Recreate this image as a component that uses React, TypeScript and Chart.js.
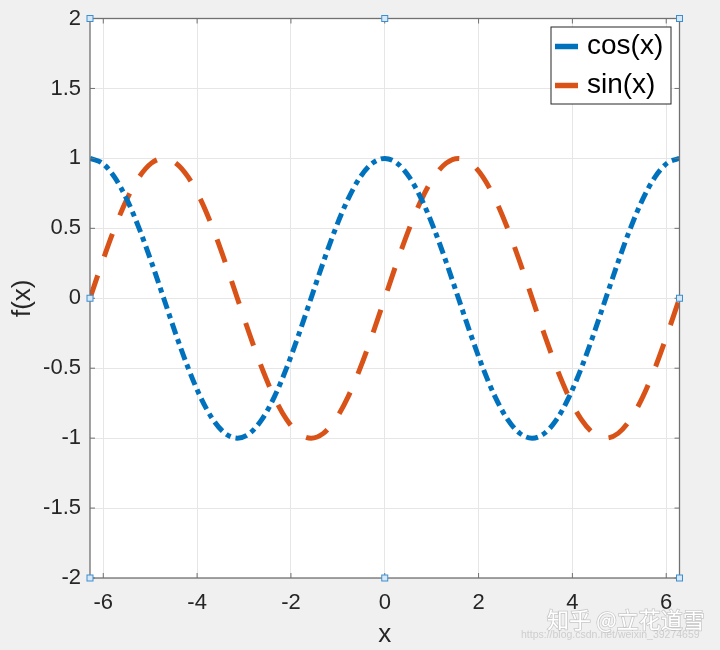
import React, { useRef, useEffect } from "react";
import Chart from "chart.js/auto";

// sampled every 15 degrees from -2pi to 2pi
const xValues = [
  -6.283, -6.021, -5.76, -5.498, -5.236, -4.974, -4.712, -4.451, -4.189, -3.927,
  -3.665, -3.403, -3.142, -2.88, -2.618, -2.356, -2.094, -1.833, -1.571, -1.309,
  -1.047, -0.785, -0.524, -0.262, 0, 0.262, 0.524, 0.785, 1.047, 1.309, 1.571,
  1.833, 2.094, 2.356, 2.618, 2.88, 3.142, 3.403, 3.665, 3.927, 4.189, 4.451,
  4.712, 4.974, 5.236, 5.498, 5.76, 6.021, 6.283,
];
const cosValues = [
  1, 0.966, 0.866, 0.707, 0.5, 0.259, 0, -0.259, -0.5, -0.707, -0.866, -0.966,
  -1, -0.966, -0.866, -0.707, -0.5, -0.259, 0, 0.259, 0.5, 0.707, 0.866, 0.966,
  1, 0.966, 0.866, 0.707, 0.5, 0.259, 0, -0.259, -0.5, -0.707, -0.866, -0.966,
  -1, -0.966, -0.866, -0.707, -0.5, -0.259, 0, 0.259, 0.5, 0.707, 0.866, 0.966,
  1,
];
const sinValues = [
  0, 0.259, 0.5, 0.707, 0.866, 0.966, 1, 0.966, 0.866, 0.707, 0.5, 0.259, 0,
  -0.259, -0.5, -0.707, -0.866, -0.966, -1, -0.966, -0.866, -0.707, -0.5,
  -0.259, 0, 0.259, 0.5, 0.707, 0.866, 0.966, 1, 0.966, 0.866, 0.707, 0.5,
  0.259, 0, -0.259, -0.5, -0.707, -0.866, -0.966, -1, -0.966, -0.866, -0.707,
  -0.5, -0.259, 0,
];
const seriesLabels = ["cos(x)", "sin(x)"];
const seriesColors = ["#0072BD", "#D95319"];
const xTicks = [-6, -4, -2, 0, 2, 4, 6];
const yTicks = [-2, -1.5, -1, -0.5, 0, 0.5, 1, 1.5, 2];
const xMin = -6.283;
const xMax = 6.283;
const yMin = -2;
const yMax = 2;

const FONT = "'Liberation Sans', Arial, sans-serif";
const AXIS_COLOR = "#707070";

const matlabFrame = {
  id: "matlabFrame",
  beforeDraw(chart: any) {
    const { ctx, chartArea: a } = chart;
    ctx.save();
    ctx.fillStyle = "#f0f0f0";
    ctx.fillRect(0, 0, chart.width, chart.height);
    ctx.fillStyle = "#ffffff";
    ctx.fillRect(a.left, a.top, a.right - a.left, a.bottom - a.top);
    ctx.restore();
  },
  afterDraw(chart: any) {
    const { ctx, chartArea: a } = chart;
    const xs = chart.scales.x;
    const ys = chart.scales.y;
    ctx.save();

    // box and inward ticks
    ctx.strokeStyle = AXIS_COLOR;
    ctx.lineWidth = 1.3;
    ctx.strokeRect(a.left, a.top, a.right - a.left, a.bottom - a.top);
    ctx.lineWidth = 1;
    ctx.beginPath();
    xTicks.forEach((v) => {
      const px = xs.getPixelForValue(v);
      ctx.moveTo(px, a.bottom);
      ctx.lineTo(px, a.bottom - 5);
      ctx.moveTo(px, a.top);
      ctx.lineTo(px, a.top + 5);
    });
    yTicks.forEach((v) => {
      const py = ys.getPixelForValue(v);
      ctx.moveTo(a.left, py);
      ctx.lineTo(a.left + 5, py);
      ctx.moveTo(a.right, py);
      ctx.lineTo(a.right - 5, py);
    });
    ctx.stroke();

    // legend
    const bw = 120;
    const bh = 77;
    const bx = a.right - 8.5 - bw;
    const by = a.top + 8.5;
    ctx.fillStyle = "#ffffff";
    ctx.fillRect(bx, by, bw, bh);
    ctx.strokeStyle = "#262626";
    ctx.lineWidth = 1;
    ctx.strokeRect(bx, by, bw, bh);
    ctx.font = "28px " + FONT;
    ctx.textBaseline = "middle";
    ctx.textAlign = "left";
    seriesLabels.forEach((label, i) => {
      const cy = by + 19.5 + i * 39;
      ctx.strokeStyle = seriesColors[i];
      ctx.lineWidth = 5.5;
      ctx.setLineDash([]);
      ctx.beginPath();
      ctx.moveTo(bx + 4, cy);
      ctx.lineTo(bx + 27, cy);
      ctx.stroke();
      ctx.fillStyle = "#000000";
      ctx.fillText(label, bx + 36, cy);
    });

    // selection handles
    const hx = [a.left, (a.left + a.right) / 2, a.right];
    const hy = [a.top, (a.top + a.bottom) / 2, a.bottom];
    ctx.fillStyle = "#d6e8f7";
    ctx.strokeStyle = "#3d8ed0";
    ctx.lineWidth = 1;
    hx.forEach((px, i) =>
      hy.forEach((py, j) => {
        if (i === 1 && j === 1) return;
        ctx.fillRect(px - 3, py - 3, 6, 6);
        ctx.strokeRect(px - 3, py - 3, 6, 6);
      })
    );

    // watermark
    ctx.textAlign = "left";
    ctx.textBaseline = "middle";
    ctx.font = "10.5px " + FONT;
    ctx.fillStyle = "rgba(200,200,200,0.85)";
    ctx.fillText("https://blog.csdn.net/weixin_39274659", 521, 635);
    ctx.font = "22px 'Noto Sans CJK SC', sans-serif";
    ctx.lineWidth = 1.5;
    ctx.strokeStyle = "rgba(170,170,170,0.6)";
    ctx.strokeText("知乎 @立花道雪", 547, 620);
    ctx.fillStyle = "#ffffff";
    ctx.fillText("知乎 @立花道雪", 547, 620);

    ctx.restore();
  },
};

export default function App() {
  const canvasRef = useRef<HTMLCanvasElement>(null);

  useEffect(() => {
    document.body.style.margin = "0";
    const canvas = canvasRef.current;
    if (!canvas) return;

    const chart = new Chart(canvas, {
      type: "line",
      data: {
        datasets: [
          {
            label: seriesLabels[0],
            data: xValues.map((x, i) => ({ x, y: cosValues[i] })),
            borderColor: seriesColors[0],
            borderWidth: 5,
            borderDash: [12, 5, 5, 5],
            borderCapStyle: "butt",
            cubicInterpolationMode: "monotone",
            pointRadius: 0,
            fill: false,
            clip: 0,
          },
          {
            label: seriesLabels[1],
            data: xValues.map((x, i) => ({ x, y: sinValues[i] })),
            borderColor: seriesColors[1],
            borderWidth: 5,
            borderDash: [24, 20],
            borderCapStyle: "butt",
            cubicInterpolationMode: "monotone",
            pointRadius: 0,
            fill: false,
            clip: 0,
          },
        ],
      },
      options: {
        responsive: false,
        animation: false,
        layout: { padding: { left: 0, right: 40.5, top: 18.5, bottom: 0 } },
        plugins: {
          legend: { display: false },
          tooltip: { enabled: false },
        },
        scales: {
          x: {
            type: "linear",
            min: xMin,
            max: xMax,
            afterBuildTicks: (s: any) => {
              s.ticks = xTicks.map((value) => ({ value }));
            },
            afterFit: (s: any) => {
              s.height = 72;
              s.paddingLeft = 0;
              s.paddingRight = 0;
            },
            grid: { color: "#e6e6e6", drawTicks: false },
            border: { display: false },
            ticks: {
              font: { family: FONT, size: 22 },
              color: "#262626",
              padding: 12,
              maxRotation: 0,
              callback: (v: any) => String(v),
            },
            title: {
              display: true,
              text: "x",
              font: { family: FONT, size: 26 },
              color: "#262626",
              padding: { top: 0, bottom: 0 },
            },
          },
          y: {
            type: "linear",
            min: yMin,
            max: yMax,
            afterBuildTicks: (s: any) => {
              s.ticks = yTicks.map((value) => ({ value }));
            },
            afterFit: (s: any) => {
              s.width = 90;
              s.paddingTop = 0;
              s.paddingBottom = 0;
            },
            grid: { color: "#e6e6e6", drawTicks: false },
            border: { display: false },
            ticks: {
              font: { family: FONT, size: 22 },
              color: "#262626",
              padding: 9,
              callback: (v: any) => String(v),
            },
            title: {
              display: true,
              text: "f(x)",
              font: { family: FONT, size: 26 },
              color: "#262626",
              padding: { top: 7, bottom: 0 },
            },
          },
        },
      },
      plugins: [matlabFrame],
    });

    return () => {
      chart.destroy();
    };
  }, []);

  return (
    <div style={{ width: 720, height: 650, background: "#f0f0f0" }}>
      <canvas ref={canvasRef} width={720} height={650} />
    </div>
  );
}
